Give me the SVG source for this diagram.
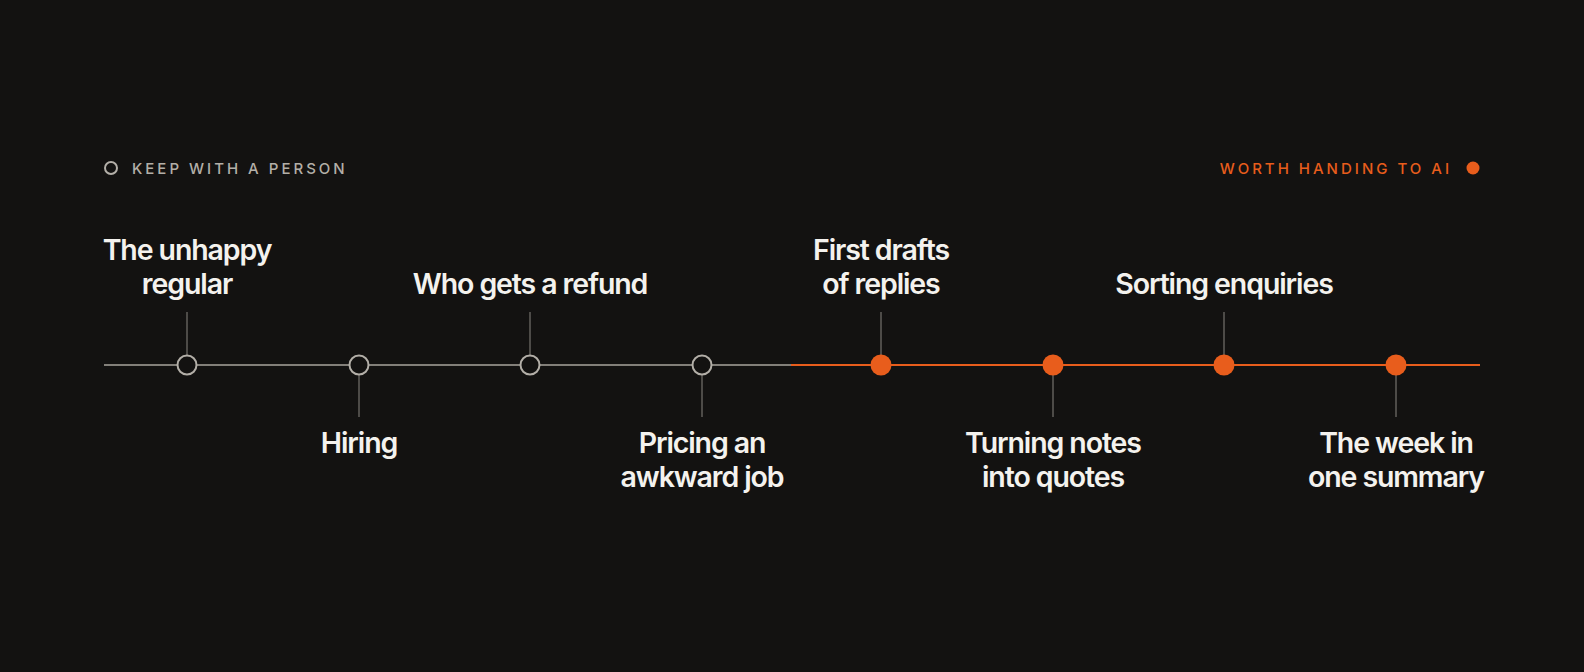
<svg xmlns="http://www.w3.org/2000/svg" width="1584" height="672" viewBox="0 0 1584 672">
<style>
.lbl{font-family:Inter,"Liberation Sans",sans-serif;font-weight:600;font-size:28.5px;fill:#f4f2ee;text-anchor:middle;letter-spacing:-1.1px}
.leg{font-family:Inter,"Liberation Sans",sans-serif;font-weight:500;font-size:15px;letter-spacing:3px}
.g{stroke:#a8a49d;stroke-width:1.6;fill:none}
.gt{stroke:#6e6b66;stroke-width:1.3}
.o{stroke:#e85d1c;stroke-width:1.8}
.hol{fill:#131211;stroke:#b3afa8;stroke-width:2}
.fil{fill:#e85d1c}
</style>
<rect width="1584" height="672" fill="#131211"/>
<g id="legend-left"><circle cx="111" cy="168" r="6" class="hol"/><text x="132" y="174" class="leg" fill="#b3afa8">KEEP WITH A PERSON</text></g>
<g id="legend-right"><text x="1452" y="174" class="leg" fill="#e85d1c" text-anchor="end">WORTH HANDING TO AI</text><circle cx="1473" cy="168" r="6.5" class="fil"/></g>
<g id="connectors">
<line x1="104" y1="365" x2="791" y2="365" class="g"/>
<line x1="791" y1="365" x2="1480" y2="365" class="o"/>
<line x1="187" y1="312" x2="187" y2="355" class="gt"/>
<line x1="359" y1="375" x2="359" y2="417" class="gt"/>
<line x1="530" y1="312" x2="530" y2="355" class="gt"/>
<line x1="702" y1="375" x2="702" y2="417" class="gt"/>
<line x1="881" y1="312" x2="881" y2="355" class="gt"/>
<line x1="1053" y1="375" x2="1053" y2="417" class="gt"/>
<line x1="1224" y1="312" x2="1224" y2="355" class="gt"/>
<line x1="1396" y1="375" x2="1396" y2="417" class="gt"/>
</g>
<g id="n1"><circle cx="187" cy="365" r="9.5" class="hol"/><text class="lbl" x="187" y="260">The unhappy</text><text class="lbl" x="187" y="294">regular</text></g>
<g id="n2"><circle cx="359" cy="365" r="9.5" class="hol"/><text class="lbl" x="359" y="453">Hiring</text></g>
<g id="n3"><circle cx="530" cy="365" r="9.5" class="hol"/><text class="lbl" x="530" y="294">Who gets a refund</text></g>
<g id="n4"><circle cx="702" cy="365" r="9.5" class="hol"/><text class="lbl" x="702" y="453">Pricing an</text><text class="lbl" x="702" y="487">awkward job</text></g>
<g id="n5"><circle cx="881" cy="365" r="10.5" class="fil"/><text class="lbl" x="881" y="260">First drafts</text><text class="lbl" x="881" y="294">of replies</text></g>
<g id="n6"><circle cx="1053" cy="365" r="10.5" class="fil"/><text class="lbl" x="1053" y="453">Turning notes</text><text class="lbl" x="1053" y="487">into quotes</text></g>
<g id="n7"><circle cx="1224" cy="365" r="10.5" class="fil"/><text class="lbl" x="1224" y="294">Sorting enquiries</text></g>
<g id="n8"><circle cx="1396" cy="365" r="10.5" class="fil"/><text class="lbl" x="1396" y="453">The week in</text><text class="lbl" x="1396" y="487">one summary</text></g>
</svg>
